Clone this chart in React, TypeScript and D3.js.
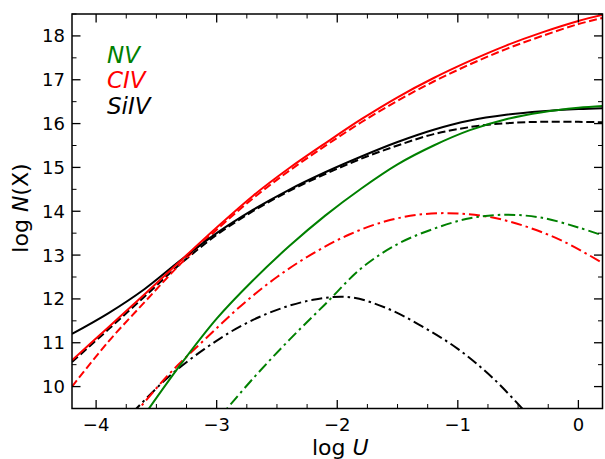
import React from "react";
import * as d3 from "d3";

type Pt = [number, number];

const xTicks = [-4, -3, -2, -1, 0];
const yTicks = [10, 11, 12, 13, 14, 15, 16, 17, 18];

const civSolid: Pt[] = [[-4.2, 10.6], [-3.9, 11.35], [-3.6, 12.1], [-3.3, 12.87], [-3.0, 13.63], [-2.7, 14.35], [-2.4, 14.98], [-2.1, 15.55], [-1.8, 16.1], [-1.5, 16.6], [-1.2, 17.04], [-0.9, 17.43], [-0.6, 17.78], [-0.3, 18.08], [0.0, 18.34], [0.2, 18.48]];
const civDashed: Pt[] = [[-4.2, 10.0], [-3.9, 11.02], [-3.6, 11.92], [-3.3, 12.8], [-3.0, 13.58], [-2.7, 14.29], [-2.4, 14.92], [-2.1, 15.49], [-1.8, 16.03], [-1.5, 16.52], [-1.2, 16.96], [-0.9, 17.35], [-0.6, 17.7], [-0.3, 18.0], [0.0, 18.27], [0.2, 18.41]];
const civDashDot: Pt[] = [[-3.7, 9.31], [-3.4, 10.27], [-3.1, 11.07], [-2.8, 11.84], [-2.5, 12.5], [-2.2, 13.04], [-1.9, 13.47], [-1.6, 13.77], [-1.3, 13.93], [-1.0, 13.95], [-0.7, 13.85], [-0.4, 13.62], [-0.1, 13.28], [0.2, 12.82]];

const siivSolid: Pt[] = [[-4.2, 11.2], [-3.9, 11.67], [-3.6, 12.22], [-3.3, 12.88], [-3.0, 13.5], [-2.7, 14.03], [-2.4, 14.49], [-2.1, 14.89], [-1.8, 15.25], [-1.5, 15.58], [-1.2, 15.86], [-0.9, 16.07], [-0.6, 16.2], [-0.3, 16.28], [0.0, 16.33], [0.2, 16.35]];
const siivDashed: Pt[] = [[-4.2, 10.56], [-3.9, 11.3], [-3.6, 12.05], [-3.3, 12.8], [-3.0, 13.46], [-2.7, 14.0], [-2.4, 14.46], [-2.1, 14.85], [-1.8, 15.2], [-1.5, 15.5], [-1.2, 15.76], [-0.9, 15.92], [-0.6, 16.01], [-0.3, 16.04], [0.0, 16.04], [0.2, 16.03]];
const siivDashDot: Pt[] = [[-3.7, 9.4], [-3.4, 10.22], [-3.1, 10.86], [-2.8, 11.38], [-2.5, 11.75], [-2.2, 11.98], [-1.9, 12.04], [-1.6, 11.8], [-1.3, 11.38], [-1.0, 10.86], [-0.7, 10.17], [-0.4, 9.3]];

const nvSolid: Pt[] = [[-3.6, 9.35], [-3.3, 10.5], [-3.0, 11.55], [-2.7, 12.42], [-2.4, 13.2], [-2.1, 13.9], [-1.8, 14.52], [-1.5, 15.07], [-1.2, 15.5], [-0.9, 15.85], [-0.6, 16.1], [-0.3, 16.26], [0.0, 16.36], [0.2, 16.4]];
const nvDashDot: Pt[] = [[-3.0, 9.22], [-2.7, 10.18], [-2.4, 11.06], [-2.1, 11.88], [-1.8, 12.7], [-1.5, 13.25], [-1.2, 13.6], [-0.9, 13.84], [-0.6, 13.92], [-0.3, 13.85], [0.0, 13.63], [0.2, 13.45]];

const legendLabels = ["NV", "CIV", "SiIV"];
const legendColors = ["green", "red", "black"];

const W = 605;
const H = 459;
const L = 72;
const R = 602.5;
const T = 14;
const B = 408.5;

export default function App() {
  const x = d3.scaleLinear().domain([-4.2, 0.2]).range([L, R]);
  const y = d3.scaleLinear().domain([9.5, 18.5]).range([B, T]);
  const line = d3
    .line<Pt>()
    .x((d) => x(d[0]))
    .y((d) => y(d[1]))
    .curve(d3.curveCatmullRom.alpha(0.5));

  const dashed = "8,3.5";
  const dashdot = "11,4,2.5,4";
  const series: { data: Pt[]; color: string; dash?: string }[] = [
    { data: siivDashDot, color: "black", dash: dashdot },
    { data: civDashDot, color: "red", dash: dashdot },
    { data: nvDashDot, color: "green", dash: dashdot },
    { data: siivDashed, color: "black", dash: dashed },
    { data: civDashed, color: "red", dash: dashed },
    { data: siivSolid, color: "black" },
    { data: nvSolid, color: "green" },
    { data: civSolid, color: "red" },
  ];

  const xMinor = d3.range(-4.0, 0.21, 0.25).filter((v) => Math.abs(v - Math.round(v)) > 1e-6);
  const yMinor = d3.range(9.5, 18.51, 0.5).filter((v) => Math.abs(v - Math.round(v)) > 1e-6);
  const font = "DejaVu Sans, sans-serif";
  const maj = 8.5;
  const mnr = 4.5;

  return (
    <svg width={W} height={H} style={{ position: "absolute", left: 0, top: 0, background: "white" }} fontFamily={font}>
      <defs>
        <clipPath id="plotclip">
          <rect x={L} y={T} width={R - L} height={B - T} />
        </clipPath>
      </defs>
      <g clipPath="url(#plotclip)" fill="none">
        {series.map((s, i) => (
          <path key={i} d={line(s.data) || ""} stroke={s.color} strokeWidth={2} strokeDasharray={s.dash} />
        ))}
      </g>
      <rect x={L} y={T} width={R - L} height={B - T} fill="none" stroke="black" strokeWidth={1.5} />
      {xTicks.map((t) => (
        <g key={"xt" + t}>
          <line x1={x(t)} x2={x(t)} y1={B} y2={B - maj} stroke="black" strokeWidth={1.3} />
          <line x1={x(t)} x2={x(t)} y1={T} y2={T + maj} stroke="black" strokeWidth={1.3} />
          <text x={x(t)} y={B + 22} fontSize={18} textAnchor="middle">
            {t < 0 ? "\u2212" + Math.abs(t) : String(t)}
          </text>
        </g>
      ))}
      {xMinor.map((t) => (
        <g key={"xm" + t}>
          <line x1={x(t)} x2={x(t)} y1={B} y2={B - mnr} stroke="black" strokeWidth={1} />
          <line x1={x(t)} x2={x(t)} y1={T} y2={T + mnr} stroke="black" strokeWidth={1} />
        </g>
      ))}
      {yTicks.map((t) => (
        <g key={"yt" + t}>
          <line x1={L} x2={L + maj} y1={y(t)} y2={y(t)} stroke="black" strokeWidth={1.3} />
          <line x1={R} x2={R - maj} y1={y(t)} y2={y(t)} stroke="black" strokeWidth={1.3} />
          <text x={L - 7} y={y(t)} dy="0.36em" fontSize={18} textAnchor="end">
            {t}
          </text>
        </g>
      ))}
      {yMinor.map((t) => (
        <g key={"ym" + t}>
          <line x1={L} x2={L + mnr} y1={y(t)} y2={y(t)} stroke="black" strokeWidth={1} />
          <line x1={R} x2={R - mnr} y1={y(t)} y2={y(t)} stroke="black" strokeWidth={1} />
        </g>
      ))}
      <text x={(L + R) / 2 + 3} y={455} fontSize={22} textAnchor="middle">
        log <tspan fontStyle="italic">U</tspan>
      </text>
      <text transform={`translate(28, 208) rotate(-90)`} fontSize={22} textAnchor="middle">
        log <tspan fontStyle="italic">N</tspan>(X)
      </text>
      {legendLabels.map((lab, i) => (
        <text key={lab} x={107} y={62.5 + i * 25.5} fontSize={23} fontStyle="italic" fill={legendColors[i]}>
          {lab}
        </text>
      ))}
    </svg>
  );
}
